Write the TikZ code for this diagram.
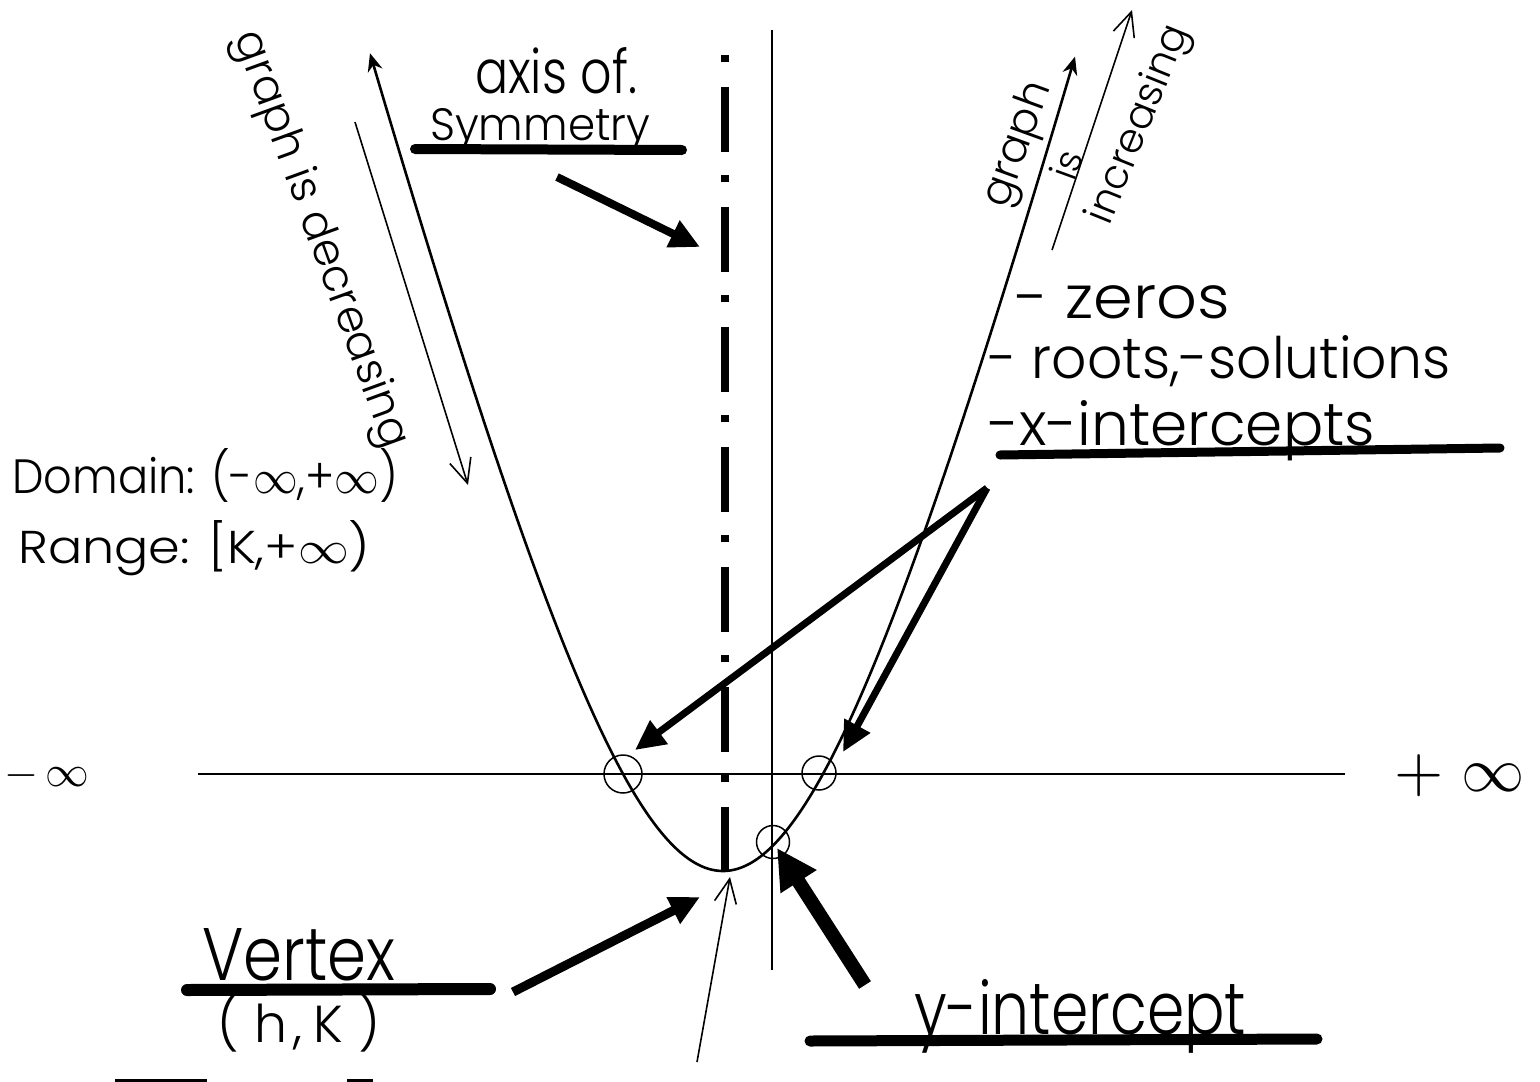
\documentclass[tikz,border=0pt]{standalone}
\usepackage{fontspec}
\setmainfont{Poppins Light}
\usepackage{graphicx}
\usetikzlibrary{arrows.meta}
\newcommand{\fitto}[2]{\resizebox{#1}{!}{#2}}
\newcommand{\fitbox}[3]{\resizebox{#1}{#2}{#3}}
\begin{document}
\begin{tikzpicture}[x=1pt,y=-1pt,
  axisline/.style={line width=2.4pt},
  curveline/.style={line width=2.6pt},
  bar/.style={line width=11pt,line cap=round},
  fatarrow/.style={line width=#1,-{Triangle[length=30pt,width=28pt]}},
  fatarrow/.default=8pt,
  openarrow/.style={line width=1.6pt,-{Straight Barb[length=24pt,width=22pt,line width=1.6pt]}},
  ring/.style={draw,circle,inner sep=0pt,line width=1.5pt},
  lbl/.style={inner sep=0pt,anchor=base west},
  clbl/.style={inner sep=0pt,anchor=center},
]
\useasboundingbox[fill=white] (0,0) rectangle (1540,1082);

% axes
\coordinate (xa0) at (198,774);
\coordinate (xa1) at (1345,774);
\coordinate (ya0) at (772,30);
\coordinate (ya1) at (772,970);
\draw[axisline] (xa0) -- (xa1);
\draw[axisline] (ya0) -- (ya1);

% axis of symmetry
\coordinate (s0) at (725,55);
\coordinate (s1) at (725,870);
\draw[line width=8pt,dash pattern=on 7pt off 25pt on 65pt off 23pt] (s0) -- (s1);

% parabola
\draw[curveline,{Stealth[length=18pt,width=15pt]}-{Stealth[length=18pt,width=15pt]}]
  plot[domain=370:1075,samples=140,smooth]
  (\x,{871-382*(sqrt(((\x-723)/100)*((\x-723)/100)+3.3856)-1.84)});

% circles
\node[ring,minimum size=38pt] (xl) at (623,774) {};
\node[ring,minimum size=34pt] (xr) at (819,773) {};
\node[ring,minimum size=33pt] (yi) at (773,842) {};

% texts
\node[lbl] (axisof) at (475,93) {\fitbox{162pt}{46pt}{axis of.}};
\node[lbl] (symm) at (430,140) {\fitbox{220pt}{32pt}{Symmetry}};
\draw[bar,line width=10pt] (415,149) -- (682,150);

\node[clbl,rotate=-70] (dec) at (320,240) {\fitto{440pt}{graph is decreasing}};
\node[clbl,rotate=70] (gr) at (1019,145) {\fitto{130pt}{graph}};
\node[clbl,rotate=70] (is) at (1066,165) {\fitto{28pt}{is}};
\node[clbl,rotate=68] (inc) at (1140,125) {\fitto{210pt}{increasing}};

\node[lbl] (zeros) at (1015,318) {\fitbox{215pt}{33pt}{- zeros}};
\node[lbl] (roots) at (988,378) {\fitbox{462pt}{43pt}{- roots,-solutions}};
\node[lbl] (xint) at (988,445) {\fitbox{387pt}{45pt}{-x-intercepts}};
\draw[bar,line width=9pt] (1000,455) -- (1500,448);

\node[lbl] (dom) at (12,493) {\fitbox{386pt}{45pt}{Domain: (-$\infty$,+$\infty$)}};
\node[lbl] (rng) at (18,563) {\fitbox{352pt}{43pt}{Range: [K,+$\infty$)}};

\node[clbl] (minf) at (47,776) {\fitto{85pt}{$-\,\infty$}};
\node[clbl] (pinf) at (1460,776) {\fitto{130pt}{$+\;\infty$}};

\node[lbl] (vert) at (202,980) {\fitbox{193pt}{52pt}{Vertex}};
\draw[bar,line width=12pt] (187,990) -- (490,989);
\node[lbl] (hk) at (217,1042) {\fitto{163pt}{(\kern.3em h\kern.12em,\kern.2em K\kern.3em)}};

\node[lbl] (yint) at (914,1034) {\fitbox{332pt}{55pt}{y-intercept}};
\draw[bar,line width=11pt] (810,1041) -- (1317,1039);

% thick arrows
\coordinate (sa0) at (557,177);
\coordinate (sa1) at (700,247);
\draw[fatarrow] (sa0) -- (sa1);

\coordinate (apex) at (987,488);
\coordinate (xlt) at (635,750);
\coordinate (xrt) at (843,752);
\draw[fatarrow=7pt] (apex) -- (xlt);
\draw[fatarrow=7pt] (apex) -- (xrt);

\coordinate (va0) at (513,992);
\coordinate (va1) at (700,897);
\draw[fatarrow=9pt] (va0) -- (va1);

\coordinate (ya0b) at (865,985);
\coordinate (ya1b) at (777,848);
\draw[line width=14pt,-{Triangle[length=40pt,width=40pt]}] (ya0b) -- (ya1b);

% thin open arrows
\coordinate (da0) at (355,122);
\coordinate (da1) at (468,485);
\draw[openarrow] (da0) -- (da1);
\coordinate (ia0) at (1052,250);
\coordinate (ia1) at (1132,10);
\draw[openarrow] (ia0) -- (ia1);
\coordinate (ta0) at (697,1062);
\coordinate (ta1) at (730,877);
\draw[openarrow] (ta0) -- (ta1);

% cut-off strokes at the bottom edge
\coordinate (f0) at (115,1080);
\coordinate (f1) at (207,1080);
\coordinate (f2) at (347,1080);
\coordinate (f3) at (373,1080);
\draw[line width=3pt] (f0) -- (f1);
\draw[line width=3pt] (f2) -- (f3);
\end{tikzpicture}
\end{document}
